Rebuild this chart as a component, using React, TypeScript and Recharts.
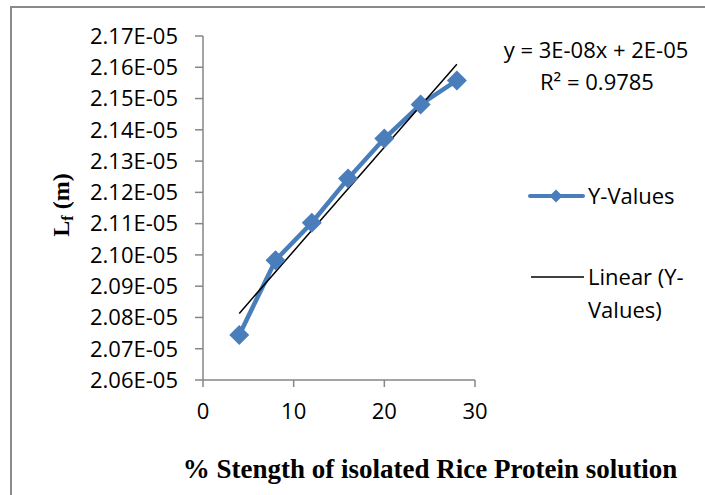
import React from 'react';
import { ComposedChart, Line, XAxis, YAxis, Legend, Label } from 'recharts';

// % strength of isolated rice protein solution
const strengthPct = [4, 8, 12, 16, 20, 24, 28];
// Lf (m)
const lfValues = [2.0744e-5, 2.0983e-5, 2.1103e-5, 2.1244e-5, 2.1372e-5, 2.1481e-5, 2.1558e-5];
// linear trendline end points
const trendX = [4, 28];
const trendY = [2.0813e-5, 2.161e-5];

const xTicks = [0, 10, 20, 30];
const yTicks = [
  2.06e-5, 2.07e-5, 2.08e-5, 2.09e-5, 2.1e-5, 2.11e-5,
  2.12e-5, 2.13e-5, 2.14e-5, 2.15e-5, 2.16e-5, 2.17e-5,
];

const seriesName = 'Y-Values';
const trendNameLines = ['Linear (Y-', 'Values)'];
const equationLines = ['y = 3E-08x + 2E-05', 'R² = 0.9785'];
const xTitle = '% Stength of isolated Rice Protein solution';

const BLUE = '#4a7ebb';
const AXIS = '#868686';
const SANS = '"Open Sans", sans-serif';
const SERIF = '"Liberation Serif", "Times New Roman", serif';
const FS = 22;

const points = strengthPct.map((x, i) => ({ x, y: lfValues[i] }));
const trend = trendX.map((x, i) => ({ x, y: trendY[i] }));

const sci = (v: number) => {
  const [m, e] = v.toExponential(2).split('e');
  const n = Number(e);
  return `${m}E${n < 0 ? '-' : '+'}${String(Math.abs(n)).padStart(2, '0')}`;
};

const Diamond = (props: any) => {
  const { cx, cy, index } = props;
  if (cx == null || cy == null) return null;
  const r = 10;
  return (
    <path
      key={`d-${index}`}
      d={`M${cx},${cy - r}L${cx + r},${cy}L${cx},${cy + r}L${cx - r},${cy}Z`}
      fill={BLUE}
    />
  );
};

const YTitle = () => (
  <text
    transform="translate(69,205) rotate(-90)"
    textAnchor="middle"
    fontFamily={SERIF}
    fontWeight="bold"
    fontSize={24}
    fill="#000"
  >
    L<tspan fontSize={16} dy={4}>f</tspan>
    <tspan dy={-4}> (m)</tspan>
  </text>
);

const XTitle = () => (
  <text x={430} y={478} textAnchor="middle" fontFamily={SERIF} fontWeight="bold" fontSize={27} fill="#000">
    {xTitle}
  </text>
);

const LegendBox = () => (
  <svg width={705} height={495} style={{ position: 'absolute', left: 0, top: 0 }}>
    <g fontFamily={SANS} fontSize={FS} fill="#000">
      <text x={596} y={58} textAnchor="middle">{equationLines[0]}</text>
      <text x={597} y={90} textAnchor="middle">{equationLines[1]}</text>

      <line x1={530} y1={196} x2={583} y2={196} stroke={BLUE} strokeWidth={4} strokeLinecap="round" />
      <path d="M556,189.5L562.5,196L556,202.5L549.5,196Z" fill={BLUE} />
      <text x={588} y={204}>{seriesName}</text>

      <line x1={531} y1={277} x2={584} y2={277} stroke="#000" strokeWidth={1.5} />
      <text x={588} y={285}>{trendNameLines[0]}</text>
      <text x={588} y={318}>{trendNameLines[1]}</text>
    </g>
  </svg>
);

export default function App() {
  return (
    <div style={{ position: 'absolute', left: 0, top: 0, width: 705, height: 495, background: '#fff' }}>
      <div style={{ position: 'absolute', left: 10, top: 6, width: 695, height: 2, background: '#8a8a8a' }} />
      <div style={{ position: 'absolute', left: 10, top: 6, width: 2, height: 489, background: '#8a8a8a' }} />
      <ComposedChart width={705} height={495} margin={{ top: 36, right: 230, bottom: 0, left: 0 }}>
        <XAxis
          type="number"
          dataKey="x"
          domain={[0, 30]}
          ticks={xTicks}
          height={115}
          axisLine={{ stroke: AXIS, strokeWidth: 1.5 }}
          tickLine={{ stroke: AXIS, strokeWidth: 1.5 }}
          tickSize={7}
          tickMargin={16}
          tick={{ fill: '#000', fontSize: FS, fontFamily: SANS }}
          allowDataOverflow
        >
          <Label content={<XTitle />} />
        </XAxis>
        <YAxis
          type="number"
          domain={[2.06e-5, 2.17e-5]}
          ticks={yTicks}
          width={203}
          tickFormatter={sci}
          axisLine={{ stroke: AXIS, strokeWidth: 1.5 }}
          tickLine={{ stroke: AXIS, strokeWidth: 1.5 }}
          tickSize={8}
          tickMargin={17}
          tick={{ fill: '#000', fontSize: FS, fontFamily: SANS }}
          allowDataOverflow
        >
          <Label content={<YTitle />} />
        </YAxis>
        <Line
          data={points}
          dataKey="y"
          name={seriesName}
          stroke={BLUE}
          strokeWidth={4.5}
          dot={<Diamond />}
          activeDot={false}
          isAnimationActive={false}
        />
        <Line
          data={trend}
          dataKey="y"
          name="Linear (Y-Values)"
          stroke="#000"
          strokeWidth={1.5}
          dot={false}
          activeDot={false}
          isAnimationActive={false}
        />
        <Legend
          layout="horizontal"
          align="center"
          verticalAlign="middle"
          content={() => <LegendBox />}
          wrapperStyle={{ left: 0, top: 0, width: 705, height: 495, pointerEvents: 'none' }}
        />
      </ComposedChart>
    </div>
  );
}
